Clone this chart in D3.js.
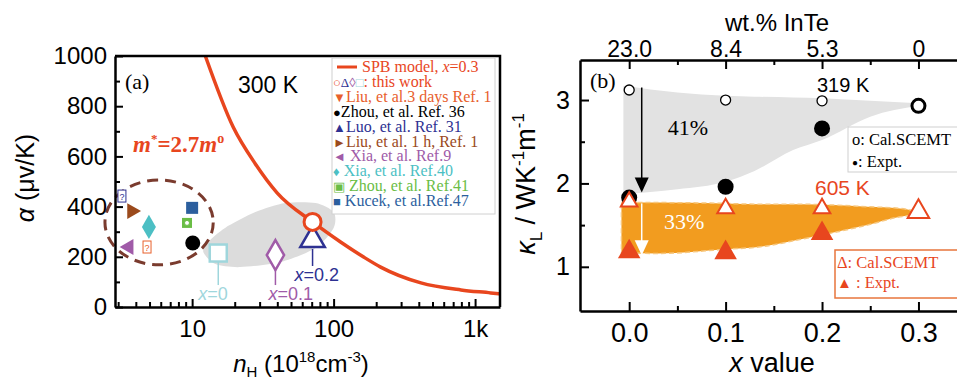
<!DOCTYPE html>
<html>
<head>
<meta charset="utf-8">
<script src="https://cdn.jsdelivr.net/npm/d3@7"></script>
<style>
  body { margin: 0; background: #fff; }
  svg { display: block; }
  .serif { font-family: "Liberation Serif", "Times New Roman", serif; }
  .sans { font-family: "Liberation Sans", Arial, sans-serif; }
</style>
</head>
<body>
<div id="root"></div>
<script>
// ---------- data, panel (a)
const spbN = [12.4, 19.5, 28, 40, 71, 112, 163, 215, 414, 794, 1290, 1500];
const spbAlpha = [1000, 717, 570, 454, 339, 259, 199, 159, 96, 68, 56, 52];

const workLabels = ["x=0", "x=0.1", "x=0.2", "x=0.3"];
const workN = [15.3, 38.8, 71, 71];
const workAlpha = [215, 207, 267, 339];

const refLabels = ["Liu, et al.3 days Ref. 1", "Zhou, et al. Ref. 36", "Luo, et al. Ref. 31",
  "Liu, et al. 1 h, Ref. 1", " Xia, et al. Ref.9", " Xia, et al. Ref.40", " Zhou, et al. Ref.41", " Kucek, et al.Ref.47"];
const refGlyphs = ["▼", "●", "▲", "►", "◄", "♦", "▣", "■"];
const refN = [4.8, 10.1, 3.19, 3.75, 3.57, 4.95, 9.2, 10.0];
const refAlpha = [239, 255, 442, 382, 239, 319, 335, 395];

// grey cloud of this work and the dashed ring round the literature points
const blobN = [12.0, 14.6, 21.9, 42.1, 74.5, 100, 100, 74.5, 45.7, 28, 17.1, 13];
const blobAlpha = [219, 171, 159, 179, 235, 315, 378, 414, 414, 378, 315, 259];
const ringN = [2.42, 14.1];
const ringAlpha = [168, 506];

const yTicksA = [0, 200, 400, 600, 800, 1000];

// ---------- data, panel (b)
const xVals = [0, 0.1, 0.2, 0.3];
const wtLabels = ["23.0", "8.4", "5.3", "0"];
const cal319 = [3.12, 3.00, 2.99, 2.93];
const exp319 = [1.83, 1.96, 2.66];
const cal605 = [1.78, 1.70, 1.70, 1.66];
const exp605 = [1.18, 1.17, 1.40];

const greyX = [-0.006, 0.05, 0.1, 0.13, 0.17, 0.2, 0.25, 0.3];
const greyHi = [3.17, 3.09, 3.05, 3.04, 3.03, 3.02, 2.99, 2.96];
const greyLo = [1.87, 1.93, 2.02, 2.15, 2.4, 2.52, 2.8, 2.93];

const orangeX = [-0.008, 0.03, 0.1, 0.136, 0.178, 0.212, 0.247, 0.281, 0.307];
const orangeHi = [1.77, 1.77, 1.76, 1.75, 1.75, 1.74, 1.72, 1.70, 1.64];
const orangeLo = [1.17, 1.16, 1.21, 1.24, 1.33, 1.41, 1.50, 1.60, 1.63];

const RED = "#e8461e";
const NAVY = "#2e3192";
const PURPLE = "#a05ba8";
const CYAN = "#9fd6dc";
const refColors = ["#e8602c", "#000", NAVY, "#9b4a1c", PURPLE, "#4cbfc4", "#6abd45", "#2c5f9e"];
const workColors = [CYAN, PURPLE, NAVY, RED];

const svg = d3.select("#root").append("svg")
  .attr("width", 957).attr("height", 381);

// ================= panel (a)
const A = { left: 115, right: 500, top: 56, bottom: 307 };
const xA = d3.scaleLog().domain([2.85, 1500]).range([A.left, A.right]);
const yA = d3.scaleLinear().domain([0, 1000]).range([A.bottom, A.top]);

const pa = svg.append("g");

// grey cloud
pa.append("path")
  .attr("d", d3.line().curve(d3.curveCardinalClosed.tension(0.2))(blobN.map((n, i) => [xA(n), yA(blobAlpha[i])])))
  .attr("fill", "#dcdcdc");

// dashed ring
pa.append("ellipse")
  .attr("cx", (xA(ringN[0]) + xA(ringN[1])) / 2)
  .attr("cy", (yA(ringAlpha[0]) + yA(ringAlpha[1])) / 2)
  .attr("rx", (xA(ringN[1]) - xA(ringN[0])) / 2)
  .attr("ry", (yA(ringAlpha[0]) - yA(ringAlpha[1])) / 2)
  .attr("fill", "none").attr("stroke", "#7a3b2e").attr("stroke-width", 3)
  .attr("stroke-dasharray", "11,7");

// SPB curve
pa.append("path")
  .attr("d", d3.line().curve(d3.curveMonotoneX)(spbN.map((n, i) => [xA(n), yA(spbAlpha[i])])))
  .attr("fill", "none").attr("stroke", RED).attr("stroke-width", 3.5);

// literature points
const sym = (type, size) => d3.symbol().type(type).size(size)();
const qBox = (g, c) => {
  g.append("rect").attr("x", -4).attr("y", -6).attr("width", 8).attr("height", 12).attr("fill", "#fff").attr("stroke", c);
  g.append("text").attr("class", "sans").attr("font-size", 9).attr("text-anchor", "middle").attr("y", 3.5).attr("fill", c).text("?");
};
const refShapes = [
  g => qBox(g, refColors[0]),
  g => g.append("circle").attr("r", 7.5).attr("fill", "#000"),
  g => qBox(g, NAVY),
  g => g.append("path").attr("d", sym(d3.symbolTriangle, 110)).attr("transform", "rotate(90)").attr("fill", refColors[3]),
  g => g.append("path").attr("d", sym(d3.symbolTriangle, 110)).attr("transform", "rotate(-90)").attr("fill", refColors[4]),
  g => g.append("path").attr("d", sym(d3.symbolDiamond, 170)).attr("fill", refColors[5]),
  g => { g.append("rect").attr("x", -5).attr("y", -5).attr("width", 10).attr("height", 10).attr("fill", refColors[6]);
         g.append("circle").attr("r", 2.5).attr("fill", "#fff").attr("stroke", refColors[6]); },
  g => g.append("rect").attr("x", -6).attr("y", -6).attr("width", 12).attr("height", 12).attr("fill", refColors[7])
];
pa.selectAll("g.ref").data(refN).enter().append("g").attr("class", "ref")
  .attr("transform", (n, i) => `translate(${xA(n)},${yA(refAlpha[i])})`)
  .each(function (n, i) { refShapes[i](d3.select(this)); });

// this work: leader lines and labels for x = 0, 0.1, 0.2
const labelDx = [-20, -7, -18];
const labelDy = [47, 45, 41];
[0, 1, 2].forEach(i => {
  const cx = xA(workN[i]), cy = yA(workAlpha[i]);
  pa.append("line").attr("x1", cx).attr("x2", cx).attr("y1", cy + 9).attr("y2", cy + labelDy[i] - 15)
    .attr("stroke", workColors[i]).attr("stroke-width", 1.5);
  pa.append("text").attr("class", "sans").attr("font-size", 18).attr("fill", workColors[i])
    .attr("x", cx + labelDx[i]).attr("y", cy + labelDy[i])
    .call(t => { t.append("tspan").attr("font-style", "italic").text("x"); t.append("tspan").text(workLabels[i].slice(1)); });
});
const workShapes = [
  g => g.append("rect").attr("x", -8.5).attr("y", -8.5).attr("width", 17).attr("height", 17),
  g => g.append("path").attr("d", sym(d3.symbolDiamond, 260)),
  g => g.append("path").attr("d", sym(d3.symbolTriangle, 260)),
  g => g.append("circle").attr("r", 8.5)
];
pa.selectAll("g.work").data(workN).enter().append("g").attr("class", "work")
  .attr("transform", (n, i) => `translate(${xA(n)},${yA(workAlpha[i])})`)
  .each(function (n, i) {
    workShapes[i](d3.select(this)).attr("fill", "#fff").attr("stroke", workColors[i]).attr("stroke-width", i === 3 ? 3 : 2.5);
  });

// axes (a)
const majorA = [10, 100, 1000];
const allXA = [];
[1, 10, 100, 1000].forEach(d => d3.range(1, 10).forEach(k => { const v = d * k; if (v >= 2.85 && v <= 1500) allXA.push(v); }));
const axBottomA = pa.append("g").attr("transform", `translate(0,${A.bottom})`)
  .call(d3.axisBottom(xA).tickValues(allXA).tickSize(-8).tickSizeOuter(0).tickPadding(13)
    .tickFormat(d => majorA.includes(d) ? (d === 1000 ? "1k" : d) : ""));
axBottomA.selectAll(".tick line").attr("y2", d => majorA.includes(d) ? -8 : -5);

const axLeftA = pa.append("g").attr("transform", `translate(${A.left},0)`)
  .call(d3.axisLeft(yA).tickValues(d3.range(0, 1001, 100)).tickSize(-8).tickSizeOuter(0).tickPadding(8)
    .tickFormat(d => yTicksA.includes(d) ? d : ""));
axLeftA.selectAll(".tick line").attr("x2", d => yTicksA.includes(d) ? 8 : 5);

[axBottomA, axLeftA].forEach(g => {
  g.attr("font-family", "Liberation Sans, Arial, sans-serif").attr("font-size", 24);
  g.select(".domain").attr("stroke-width", 2.5);
  g.selectAll(".tick line").attr("stroke-width", 2);
  g.selectAll(".tick text").attr("fill", "#000");
});
pa.append("path").attr("d", `M${A.left},${A.top}H${A.right}V${A.bottom}`)
  .attr("fill", "none").attr("stroke", "#000").attr("stroke-width", 2.5);

// titles (a)
pa.append("text").attr("class", "sans").attr("font-size", 25)
  .attr("transform", "translate(34,178) rotate(-90)").attr("text-anchor", "middle")
  .call(t => { t.append("tspan").attr("font-style", "italic").text("α"); t.append("tspan").text(" (μv/K)"); });
pa.append("text").attr("class", "sans").attr("font-size", 24).attr("x", 301).attr("y", 372).attr("text-anchor", "middle")
  .call(t => {
    t.append("tspan").attr("font-style", "italic").text("n");
    t.append("tspan").attr("font-size", 15).attr("dy", 5).text("H");
    t.append("tspan").attr("dy", -5).text(" (10");
    t.append("tspan").attr("font-size", 15).attr("dy", -10).text("18");
    t.append("tspan").attr("dy", 10).text("cm");
    t.append("tspan").attr("font-size", 15).attr("dy", -10).text("-3");
    t.append("tspan").attr("dy", 10).text(")");
  });
pa.append("text").attr("class", "serif").attr("font-size", 22).attr("x", 125).attr("y", 89).text("(a)");
pa.append("text").attr("class", "sans").attr("font-size", 23).attr("x", 238).attr("y", 93).text("300 K");
pa.append("text").attr("class", "serif").attr("font-size", 23).attr("font-weight", "bold").attr("fill", RED)
  .attr("x", 133).attr("y", 152)
  .call(t => {
    t.append("tspan").attr("font-style", "italic").text("m");
    t.append("tspan").attr("font-size", 13).attr("dy", -9).text("*");
    t.append("tspan").attr("dy", 9).text("=2.7");
    t.append("tspan").attr("font-style", "italic").text("m");
    t.append("tspan").attr("font-size", 14).attr("dy", -9).text("o");
  });

// legend (a)
const lg = pa.append("g").attr("class", "serif").attr("font-size", 16);
lg.append("rect").attr("x", 332).attr("y", 58).attr("width", 163).attr("height", 156)
  .attr("fill", "#fff").attr("stroke", "#d0d0d0");
const rowY = i => 72 + i * 14.9;
lg.append("line").attr("x1", 337).attr("x2", 357).attr("y1", rowY(0) - 5).attr("y2", rowY(0) - 5)
  .attr("stroke", RED).attr("stroke-width", 3);
lg.append("text").attr("x", 362).attr("y", rowY(0)).attr("fill", RED)
  .call(t => { t.append("tspan").text("SPB model, "); t.append("tspan").attr("font-style", "italic").text("x"); t.append("tspan").text("=0.3"); });
lg.append("text").attr("x", 333).attr("y", rowY(1)).attr("fill", RED)
  .call(t => {
    ["○", "Δ", "◊", "□"].forEach((s, k) => t.append("tspan").attr("fill", [RED, NAVY, PURPLE, CYAN][k]).attr("font-size", 13).text(s));
    t.append("tspan").text(": this work");
  });
refLabels.forEach((lab, i) => {
  lg.append("text").attr("x", 333).attr("y", rowY(i + 2)).attr("fill", refColors[i])
    .call(t => {
      t.append("tspan").attr("font-size", 13).text(refGlyphs[i]);
      t.append("tspan").text(lab);
    });
});

// ================= panel (b)
const B = { left: 580, right: 958, top: 60, bottom: 311 };
const xB = d3.scaleLinear().domain([-0.051, 0.341]).range([B.left, B.right]);
const yB = d3.scaleLinear().domain([0.47, 3.48]).range([B.bottom, B.top]);
const pb = svg.append("g");

pb.append("path")
  .attr("d", d3.area().curve(d3.curveMonotoneX).x((d, i) => xB(greyX[i])).y0((d, i) => yB(greyLo[i])).y1((d, i) => yB(greyHi[i]))(greyX))
  .attr("fill", "#e2e2e2");
pb.append("path")
  .attr("d", d3.area().curve(d3.curveMonotoneX).x((d, i) => xB(orangeX[i])).y0((d, i) => yB(orangeLo[i])).y1((d, i) => yB(orangeHi[i]))(orangeX))
  .attr("fill", "#f29c1f").attr("stroke", "#f7c77e").attr("stroke-width", 1.5).attr("stroke-dasharray", "5,3");

// arrows
const arrow = (x, y1, y2, color, w) => {
  const px = xB(x), a = yB(y1), b = yB(y2);
  pb.append("line").attr("x1", px).attr("x2", px).attr("y1", a).attr("y2", b - 12)
    .attr("stroke", color).attr("stroke-width", w);
  pb.append("path").attr("d", `M${px - 7},${b - 15}L${px + 7},${b - 15}L${px},${b}Z`).attr("fill", color);
};
arrow(0.013, 3.15, 1.89, "#000", 1.5);
arrow(0.013, 1.76, 1.14, "#fff", 1.5);

// markers
pb.selectAll("circle.cal").data(cal319).enter().append("circle")
  .attr("cx", (d, i) => xB(xVals[i])).attr("cy", d => yB(d))
  .attr("r", (d, i) => i === 3 ? 6.5 : 5).attr("fill", "#fff").attr("stroke", "#000")
  .attr("stroke-width", (d, i) => i === 3 ? 3 : 1.3);
pb.selectAll("circle.exp").data(exp319).enter().append("circle")
  .attr("cx", (d, i) => xB(xVals[i])).attr("cy", d => yB(d)).attr("r", 8).attr("fill", "#000");
pb.selectAll("path.cal605").data(cal605).enter().append("path")
  .attr("d", (d, i) => sym(d3.symbolTriangle, i === 3 ? 200 : 120))
  .attr("transform", (d, i) => `translate(${xB(xVals[i])},${yB(d)})`)
  .attr("fill", "#fff").attr("stroke", RED).attr("stroke-width", 2);
pb.selectAll("path.exp605").data(exp605).enter().append("path")
  .attr("d", sym(d3.symbolTriangle, 220))
  .attr("transform", (d, i) => `translate(${xB(xVals[i])},${yB(d)})`)
  .attr("fill", RED);

// axes (b)
const minorB = [0, 0.05, 0.1, 0.15, 0.2, 0.25, 0.3];
const isMajorB = d => xVals.some(v => Math.abs(v - d) < 1e-9);
const axBottomB = pb.append("g").attr("transform", `translate(0,${B.bottom})`)
  .call(d3.axisBottom(xB).tickValues(minorB).tickSize(-8).tickSizeOuter(0).tickPadding(12)
    .tickFormat(d => isMajorB(d) ? d3.format(".1f")(d) : ""));
axBottomB.selectAll(".tick line").attr("y2", d => isMajorB(d) ? -9 : -5);
axBottomB.attr("font-size", 27);

const axTopB = pb.append("g").attr("transform", `translate(0,${B.top})`)
  .call(d3.axisTop(xB).tickValues(minorB).tickSize(-8).tickSizeOuter(0).tickPadding(3)
    .tickFormat(d => isMajorB(d) ? wtLabels[xVals.findIndex(v => Math.abs(v - d) < 1e-9)] : ""));
axTopB.selectAll(".tick line").attr("y2", d => isMajorB(d) ? 9 : 5);
axTopB.attr("font-size", 23);

const yTicksB = [1, 1.5, 2, 2.5, 3];
const axLeftB = pb.append("g").attr("transform", `translate(${B.left},0)`)
  .call(d3.axisLeft(yB).tickValues(yTicksB).tickSize(-8).tickSizeOuter(0).tickPadding(10)
    .tickFormat(d => Number.isInteger(d) ? d : ""));
axLeftB.selectAll(".tick line").attr("x2", d => Number.isInteger(d) ? 9 : 5);
axLeftB.attr("font-size", 25);

[axBottomB, axTopB, axLeftB].forEach(g => {
  g.attr("font-family", "Liberation Sans, Arial, sans-serif");
  g.select(".domain").attr("stroke-width", 2.5);
  g.selectAll(".tick line").attr("stroke-width", 2);
  g.selectAll(".tick text").attr("fill", "#000");
});

// titles (b)
pb.append("text").attr("class", "sans").attr("font-size", 24).attr("x", 777).attr("y", 31)
  .attr("text-anchor", "middle").text("wt.% InTe");
pb.append("text").attr("class", "sans").attr("font-size", 27).attr("x", 772).attr("y", 372)
  .attr("text-anchor", "middle")
  .call(t => { t.append("tspan").attr("font-style", "italic").text("x"); t.append("tspan").text(" value"); });
pb.append("text").attr("class", "sans").attr("font-size", 27)
  .attr("transform", "translate(535,184) rotate(-90)").attr("text-anchor", "middle")
  .call(t => {
    t.append("tspan").attr("font-style", "italic").text("κ");
    t.append("tspan").attr("font-size", 17).attr("dy", 7).text("L");
    t.append("tspan").attr("dy", -7).text(" / WK");
    t.append("tspan").attr("font-size", 17).attr("dy", -11).text("-1");
    t.append("tspan").attr("dy", 11).text("m");
    t.append("tspan").attr("font-size", 17).attr("dy", -11).text("-1");
  });

pb.append("text").attr("class", "serif").attr("font-size", 22).attr("x", 590).attr("y", 88).text("(b)");
pb.append("text").attr("class", "sans").attr("font-size", 20).attr("x", 817).attr("y", 92).text("319 K");
pb.append("text").attr("class", "sans").attr("font-size", 21).attr("x", 815).attr("y", 195).attr("fill", RED).text("605 K");
pb.append("text").attr("class", "serif").attr("font-size", 22).attr("x", xB(0.04)).attr("y", yB(2.58)).text("41%");
pb.append("text").attr("class", "serif").attr("font-size", 22).attr("x", xB(0.036)).attr("y", yB(1.45)).attr("fill", "#fff").text("33%");

// legends (b)
const lb = pb.append("g").attr("class", "serif").attr("font-size", 16.5);
lb.append("rect").attr("x", 848).attr("y", 127).attr("width", 115).attr("height", 45)
  .attr("fill", "#fff").attr("stroke", "#cfcfcf");
lb.append("text").attr("x", 852).attr("y", 145).text("o: Cal.SCEMT");
lb.append("text").attr("x", 852).attr("y", 167)
  .call(t => { t.append("tspan").attr("font-size", 10).attr("dy", -1).text("●"); t.append("tspan").attr("dy", 1).text(": Expt."); });
lb.append("rect").attr("x", 835).attr("y", 250).attr("width", 130).attr("height", 48)
  .attr("fill", "#fff").attr("stroke", "#e8763c").attr("stroke-width", 1.5);
lb.append("text").attr("x", 837).attr("y", 268).attr("fill", RED).text("Δ: Cal.SCEMT");
lb.append("text").attr("x", 837).attr("y", 288).attr("fill", RED)
  .call(t => { t.append("tspan").attr("font-size", 15).text("▲"); t.append("tspan").text(" : Expt."); });
</script>
</body>
</html>
